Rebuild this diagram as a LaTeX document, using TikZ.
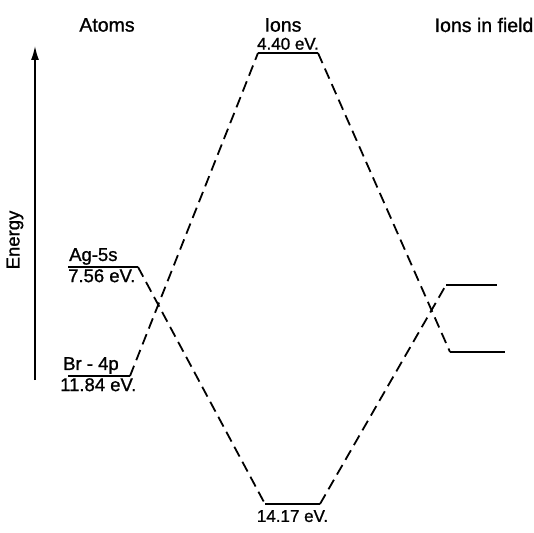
\documentclass[tikz,border=0pt]{standalone}
\usepackage{fontspec}
\setmainfont[AutoFakeBold=1.1]{Liberation Sans}
\usetikzlibrary{arrows.meta,positioning,calc}

\begin{document}
\begin{tikzpicture}[
  x=1pt, y=-1pt,
  font=\bfseries\fontsize{17}{19}\selectfont,
  level/.style={line width=1.7pt},
  link/.style={line width=1.8pt, dash pattern=on 11pt off 6pt},
  axis/.style={line width=1.5pt, -{Latex[length=14pt,width=8pt]}},
  lbl/.style={inner sep=1pt},
  atm/.style={lbl, font=\bfseries\fontsize{18.5}{20}\selectfont},
  head/.style={inner sep=0pt, font=\bfseries\fontsize{19.5}{21}\selectfont}
]
\useasboundingbox (0,0) rectangle (534,532);

% column headings
\node[head] (hatm) at (107,25) {Atoms};
\node[head] (hion) at (283,25) {Ions};
\node[head] (hfld) at (484,25) {Ions in field};

% energy axis
\coordinate (ax0) at (35,380);
\coordinate (ax1) at (35,46);
\draw[axis] (ax0) -- (ax1);
\node[atm, rotate=90] (en) at (15,240) {Energy};

% atomic levels
\coordinate (agL) at (68,267);
\coordinate (agR) at (138,267);
\coordinate (brL) at (68,376);
\coordinate (brR) at (130,376);
\draw[level] (agL) -- (agR);
\draw[level] (brL) -- (brR);
\node[atm, above right=1pt and 0pt of agL] (ag) {Ag-5s};
\node[atm, below right=1pt and -1pt of agL] (agv) {7.56 eV.};
\node[atm, above right=1pt and -6pt of brL] (br) {Br - 4p};
\node[atm, below right=1pt and -9pt of brL] (brv) {11.84 eV.};

% ionic levels
\coordinate (upL) at (258,53);
\coordinate (upR) at (318,53);
\coordinate (dnL) at (265,504);
\coordinate (dnR) at (320,504);
\draw[level] (upL) -- (upR);
\draw[level] (dnL) -- (dnR);
\node[lbl, above=2pt of $(upL)!0.5!(upR)$] (upv) {4.40 eV.};
\node[lbl, below=5pt of $(dnL)!0.5!(dnR)$] (dnv) {14.17 eV.};

% ions in field
\coordinate (fuL) at (446,285);
\coordinate (fuR) at (497,285);
\coordinate (flL) at (450,352);
\coordinate (flR) at (505,352);
\draw[level] (fuL) -- (fuR);
\draw[level] (flL) -- (flR);

% correlation lines
\draw[link] (agR) -- (dnL);
\draw[link] (brR) -- (upL);
\draw[link] (upR) -- (flL);
\draw[link] (dnR) -- (fuL);
\end{tikzpicture}
\end{document}
